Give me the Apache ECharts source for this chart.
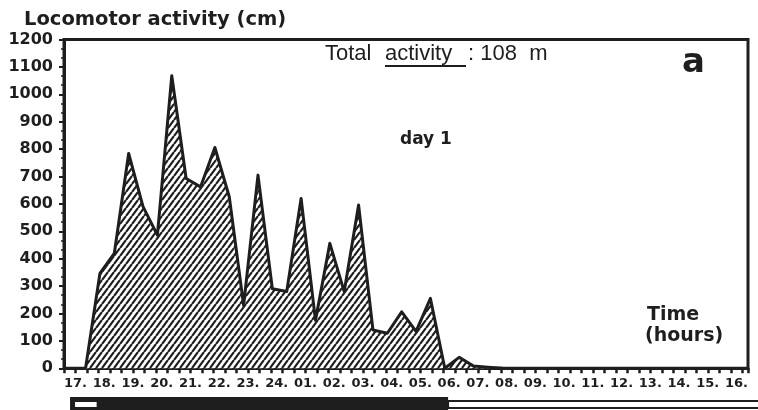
<!DOCTYPE html>
<html>
<head>
<meta charset="utf-8">
<script src="https://cdn.jsdelivr.net/npm/echarts@6/dist/echarts.min.js"></script>
<style>
  html, body { margin: 0; padding: 0; background: #fff; }
  #chart { width: 758px; height: 410px; }
</style>
</head>
<body>
<div id="chart"></div>
<script>
  // half-hour samples, clock time of each point
  const times = ['17:45', '18:15', '18:45', '19:15', '19:45', '20:15', '20:45', '21:15', '21:45', '22:15',
    '22:45', '23:15', '23:45', '00:15', '00:45', '01:15', '01:45', '02:15', '02:45', '03:15',
    '03:45', '04:15', '04:45', '05:15', '05:45', '06:15', '06:45', '07:15', '07:45', '08:15']
  const activity = [0, 346, 419, 784, 590, 486, 1068, 693, 662, 806,
    626, 230, 705, 290, 280, 620, 175, 456, 280, 596,
    140, 128, 206, 135, 255, 0, 40, 8, 4, 0]
  const hourLabels = ['17', '18', '19', '20', '21', '22', '23', '24', '01', '02', '03', '04',
    '05', '06', '07', '08', '09', '10', '11', '12', '13', '14', '15', '16']
  const yTicks = [0, 100, 200, 300, 400, 500, 600, 700, 800, 900, 1000, 1100, 1200]
  const meanLine = 530
  // light / dark bar under the axis (hours since 17:00)
  const phaseStart = [0.21, 0.35, 13.36]
  const phaseEnd = [13.36, 1.17, 24.2]
  const phaseKind = ['dark', 'light', 'light']

  const ink = '#1e1e1e'
  const xMax = 23.8

  const toHours = (t) => {
    const [h, m] = t.split(':').map(Number)
    return ((h - 17 + 24) % 24) + m / 60
  }

  // diagonal hatch
  const hatch = document.createElement('canvas')
  hatch.width = 6
  hatch.height = 8
  const hctx = hatch.getContext('2d')
  hctx.fillStyle = '#fff'
  hctx.fillRect(0, 0, 6, 8)
  hctx.strokeStyle = ink
  hctx.lineWidth = 2.2
  hctx.beginPath()
  for (let i = -1; i <= 1; i++) {
    hctx.moveTo(i * 6, 8)
    hctx.lineTo(i * 6 + 6, 0)
  }
  hctx.stroke()

  const chart = echarts.init(document.getElementById('chart'))

  chart.setOption({
    backgroundColor: '#fff',
    animation: false,
    grid: [
      { left: 64, right: 10, top: 39.5, bottom: 41.7, show: true, borderColor: ink, borderWidth: 3 },
      { left: 64, right: 0, top: 397, bottom: 0 }
    ],
    xAxis: [
      {
        type: 'value',
        gridIndex: 0,
        min: 0,
        max: xMax,
        interval: 1,
        axisLine: { show: true, lineStyle: { color: ink, width: 3 } },
        axisTick: { show: false },
        splitLine: { show: false },
        axisLabel: {
          color: ink,
          fontFamily: 'DejaVu Sans',
          fontWeight: 'bold',
          fontSize: 13,
          align: 'left',
          margin: 9,
          showMaxLabel: false,
          formatter: (v) => (Number.isInteger(v) && hourLabels[v] ? hourLabels[v] + '.' : '')
        }
      },
      {
        type: 'value',
        gridIndex: 0,
        min: 0,
        max: xMax,
        interval: 0.4,
        position: 'bottom',
        axisLine: { show: false },
        axisTick: { show: true, length: 5, lineStyle: { color: ink, width: 2.5 } },
        axisLabel: { show: false },
        splitLine: { show: false }
      },
      { type: 'value', gridIndex: 1, min: 0, max: 24.14, show: false }
    ],
    yAxis: [
      {
        type: 'value',
        gridIndex: 0,
        min: yTicks[0],
        max: yTicks[yTicks.length - 1],
        interval: 100,
        axisLine: { show: true, lineStyle: { color: ink, width: 3 } },
        axisTick: { show: true, length: 5, lineStyle: { color: ink, width: 2 } },
        minorTick: { show: true, splitNumber: 3, length: 3, lineStyle: { color: ink, width: 1.5 } },
        splitLine: { show: false },
        axisLabel: {
          color: ink,
          fontFamily: 'DejaVu Sans',
          fontWeight: 'bold',
          fontSize: 16,
          margin: 11,
          formatter: (v) => String(v)
        }
      },
      { type: 'value', gridIndex: 1, min: 0, max: 1, show: false }
    ],
    graphic: [
      {
        type: 'text', left: 24, top: 10,
        style: { text: 'Locomotor activity (cm)', fill: ink, font: 'bold 19.5px "DejaVu Sans"' }
      },
      {
        type: 'text', left: 325, top: 43,
        style: { text: 'Total', fill: ink, font: '22px "Liberation Sans"' }
      },
      {
        type: 'text', left: 385, top: 43,
        style: { text: 'activity', fill: ink, font: '22px "Liberation Sans"' }
      },
      {
        type: 'text', left: 468, top: 43,
        style: { text: ': 108  m', fill: ink, font: '22px "Liberation Sans"' }
      },
      {
        type: 'line', shape: { x1: 385, y1: 66, x2: 466, y2: 66 },
        style: { stroke: ink, lineWidth: 2 }
      },
      {
        type: 'text', left: 682, top: 46,
        style: { text: 'a', fill: ink, font: 'bold 34px "DejaVu Sans"' }
      },
      {
        type: 'text', left: 400, top: 131,
        style: { text: 'day 1', fill: ink, font: 'bold 17px "DejaVu Sans"' }
      },
      {
        type: 'text', left: 647, top: 306,
        style: { text: 'Time', fill: ink, font: 'bold 19px "DejaVu Sans"' }
      },
      {
        type: 'text', left: 645, top: 327,
        style: { text: '(hours)', fill: ink, font: 'bold 19px "DejaVu Sans"' }
      }
    ],
    series: [
      {
        type: 'line',
        xAxisIndex: 0,
        yAxisIndex: 0,
        data: times.map((t, i) => [toHours(t), activity[i]]),
        symbol: 'none',
        lineStyle: { color: ink, width: 3, join: 'round' },
        areaStyle: { color: { image: hatch, repeat: 'repeat' }, opacity: 1 },
        markLine: {
          silent: true,
          symbol: 'none',
          label: { show: false },
          lineStyle: { color: ink, width: 2.5, type: 'solid' },
          data: [[{ coord: [-0.3, meanLine] }, { coord: [xMax, meanLine] }]]
        }
      },
      {
        type: 'custom',
        xAxisIndex: 2,
        yAxisIndex: 1,
        data: phaseStart.map((s, i) => [s, phaseEnd[i], phaseKind[i] === 'dark' ? 1 : 0]),
        renderItem: (params, api) => {
          const x0 = api.coord([api.value(0), 0])[0]
          const x1 = api.coord([api.value(1), 0])[0]
          const top = params.coordSys.y
          if (api.value(2) === 1) {
            return {
              type: 'rect',
              shape: { x: x0, y: top, width: x1 - x0, height: 20 },
              style: { fill: ink }
            }
          }
          return {
            type: 'rect',
            shape: { x: x0, y: top + 4, width: x1 - x0, height: 7 },
            style: { fill: '#fff', stroke: ink, lineWidth: 2 }
          }
        }
      }
    ]
  })
</script>
</body>
</html>
